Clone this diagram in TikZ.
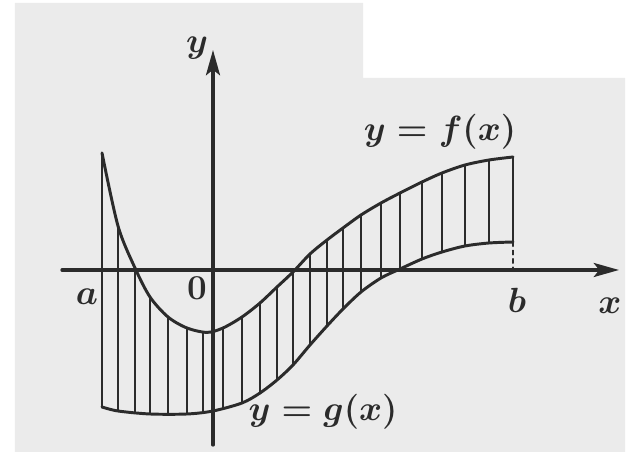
\documentclass[tikz,border=0pt]{standalone}
\usetikzlibrary{arrows.meta}
\definecolor{ink}{gray}{0.17}
\definecolor{paper}{gray}{0.92}
\tikzset{
  lbl/.style={text=ink, font=\fontsize{27}{32}\selectfont\boldmath, inner sep=0pt},
  curve/.style={draw=ink, line width=2.1pt},
  hatch/.style={draw=ink, line width=1.6pt},
  axis/.style={draw=ink, line width=2.3pt, -{Stealth[length=18pt, width=10pt, inset=4pt]}},
}
% upper curve y=f(x), from a to b
\newcommand\fcurve{plot[smooth] coordinates {(-2.775,2.925) (-2.375,1.1) (-1.95,0.05)
  (-1.575,-0.675) (-1.125,-1.175) (-0.65,-1.45) (-0.15,-1.56) (0.25,-1.45) (0.725,-1.175)
  (1.175,-0.825) (1.6,-0.425) (2.0,-0.05) (2.425,0.4) (2.85,0.75) (3.25,1.05) (3.7,1.375)
  (4.2,1.675) (4.675,1.925) (5.225,2.2) (5.725,2.425) (6.3,2.625) (6.9,2.75) (7.5,2.825)}}
% lower curve y=g(x), joined from b back to a
\newcommand\gcurve{-- plot[smooth] coordinates {(7.5,0.7) (6.9,0.675) (6.3,0.6) (5.725,0.45)
  (5.225,0.275) (4.675,0.025) (4.2,-0.2) (3.7,-0.55) (3.25,-0.975) (2.85,-1.4)
  (2.425,-1.875) (2.0,-2.375) (1.6,-2.75) (1.175,-3.075) (0.725,-3.325) (0,-3.525)
  (-0.65,-3.6) (-1.575,-3.6) (-2.375,-3.525) (-2.775,-3.425)}}
\begin{document}
\begin{tikzpicture}[line join=round, line cap=round]
    \useasboundingbox (-5.325,-4.55) rectangle (10.375,6.75);
    \fill[paper] (-4.95,-4.55) -- (-4.95,6.675) -- (3.75,6.675) -- (3.75,4.8)
        -- (10.3,4.8) -- (10.3,-4.55) -- cycle;
    \coordinate (fa) at (-2.775,2.925);
    \coordinate (ga) at (-2.775,-3.425);
    \coordinate (fb) at (7.5,2.825);
    \coordinate (gb) at (7.5,0.7);
    \coordinate (b0) at (7.5,0);
    % hatching
    \begin{scope}
        \clip \fcurve \gcurve -- cycle;
        \foreach \x in {-2.375, -1.95, -1.575, -1.125, -0.65, -0.25, 0.25, 0.725, 1.175,
                        1.6, 2.0, 2.425, 2.85, 3.25, 3.7, 4.2, 4.675, 5.225, 5.725, 6.3, 6.9} {
            \draw[hatch] (\x,-5) -- (\x,5);
        }
    \end{scope}
    % axes
    \coordinate (xl) at (-3.775,0);
    \coordinate (xr) at (10.15,0);
    \coordinate (yd) at (0,-4.375);
    \coordinate (yu) at (0,5.5);
    \draw[axis] (xl) -- (xr);
    \draw[axis] (yd) -- (yu);
    % curves and sides
    \draw[curve] \fcurve;
    \draw[curve] (gb) \gcurve;
    \draw[curve] (fa) -- (ga);
    \draw[curve] (fb) -- (gb);
    \draw[ink, line width=1.2pt, dash pattern=on 3pt off 3pt] (gb) -- (b0);
    % labels
    \node[lbl] (ylab) at (-0.4,5.55) {$y$};
    \node[lbl] (xlab) at (9.925,-0.9) {$x$};
    \node[lbl] (alab) at (-3.15,-0.675) {$a$};
    \node[lbl] (blab) at (7.6,-0.75) {$b$};
    \node[lbl] (olab) at (-0.4,-0.45) {$0$};
    \node[lbl] (flab) at (5.675,3.45) {$y=f(x)$};
    \node[lbl] (glab) at (2.75,-3.55) {$y=g(x)$};
\end{tikzpicture}
\end{document}
